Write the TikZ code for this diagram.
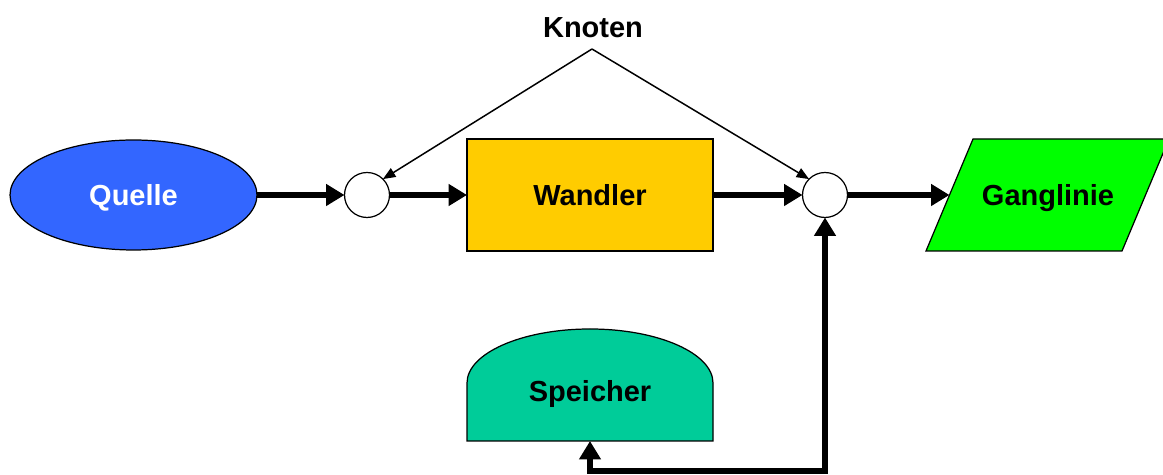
\documentclass[tikz,border=0pt]{standalone}
\usepackage{fontspec}
\setmainfont{Liberation Sans}
\usetikzlibrary{arrows.meta,shapes.geometric}
\definecolor{quelleblue}{HTML}{3366FF}
\definecolor{wandlergold}{HTML}{FFCC00}
\definecolor{gangliniegreen}{HTML}{00FF00}
\definecolor{speicherteal}{HTML}{00CC99}
\tikzset{
  lbl/.style={font=\fontsize{16.5}{20}\selectfont\bfseries, inner sep=0pt,
              text height=0.44cm, text depth=0pt},
  shapeborder/.style={draw=black, line width=0.7pt},
  junction/.style={circle, shapeborder, fill=white, minimum size=0.9cm, inner sep=0pt, outer sep=0pt},
  flow/.style={line width=3.1pt, -{Triangle[length=0.37cm,width=0.42cm]}, line join=miter},
  flowboth/.style={line width=3.1pt, {Triangle[length=0.37cm,width=0.42cm]}-{Triangle[length=0.37cm,width=0.42cm]}, line join=miter},
  pointer/.style={line width=0.85pt, -{Triangle[length=0.25cm,width=0.2cm]}},
}
\begin{document}
\begin{tikzpicture}[x=0.02cm,y=-0.02cm]
  \useasboundingbox[fill=white] (0,0) rectangle (1163,475);

  % source
  \node[ellipse, shapeborder, fill=quelleblue, minimum width=4.94cm, minimum height=2.2cm,
        outer sep=0pt, lbl, text=white] (quelle) at (133.5,195) {Quelle};

  % junctions
  \node[junction] (c1) at (367,195) {};
  \node[junction] (c2) at (825,195) {};

  % converter
  \node[rectangle, shapeborder, fill=wandlergold, minimum width=4.92cm, minimum height=2.24cm,
        outer sep=0pt, lbl] (wandler) at (590,195) {Wandler};

  % hydrograph (parallelogram)
  \filldraw[shapeborder, fill=gangliniegreen] (973,139) -- (1169,139) -- (1122,251) -- (926,251) -- cycle;
  \node[lbl] (gang) at (1048,195) {Ganglinie};
  \coordinate (gangin) at (949.5,195);

  % storage
  \filldraw[shapeborder, fill=speicherteal]
    (467,441) -- (467,383)
    .. controls (467,353.2) and (522.1,329) .. (590,329)
    .. controls (657.9,329) and (713,353.2) .. (713,383)
    -- (713,441) -- cycle;
  \node[lbl] (speicher) at (590,391) {Speicher};
  \coordinate (spbot) at (590,441);
  \coordinate (low) at (825,471);

  % label for the junctions
  \node[lbl] (knoten) at (593,27) {Knoten};
  \coordinate (apex) at (592,49);

  % main flow
  \draw[flow] (quelle.east) -- (c1.west);
  \draw[flow] (c1.east) -- (wandler.west);
  \draw[flow] (wandler.east) -- (c2.west);
  \draw[flow] (c2.east) -- (gangin);
  \draw[flowboth] (spbot) |- (low) -- (c2.south);

  % pointers from the label
  \draw[pointer] (apex) -- (c1.north east);
  \draw[pointer] (apex) -- (c2.north west);
\end{tikzpicture}
\end{document}
